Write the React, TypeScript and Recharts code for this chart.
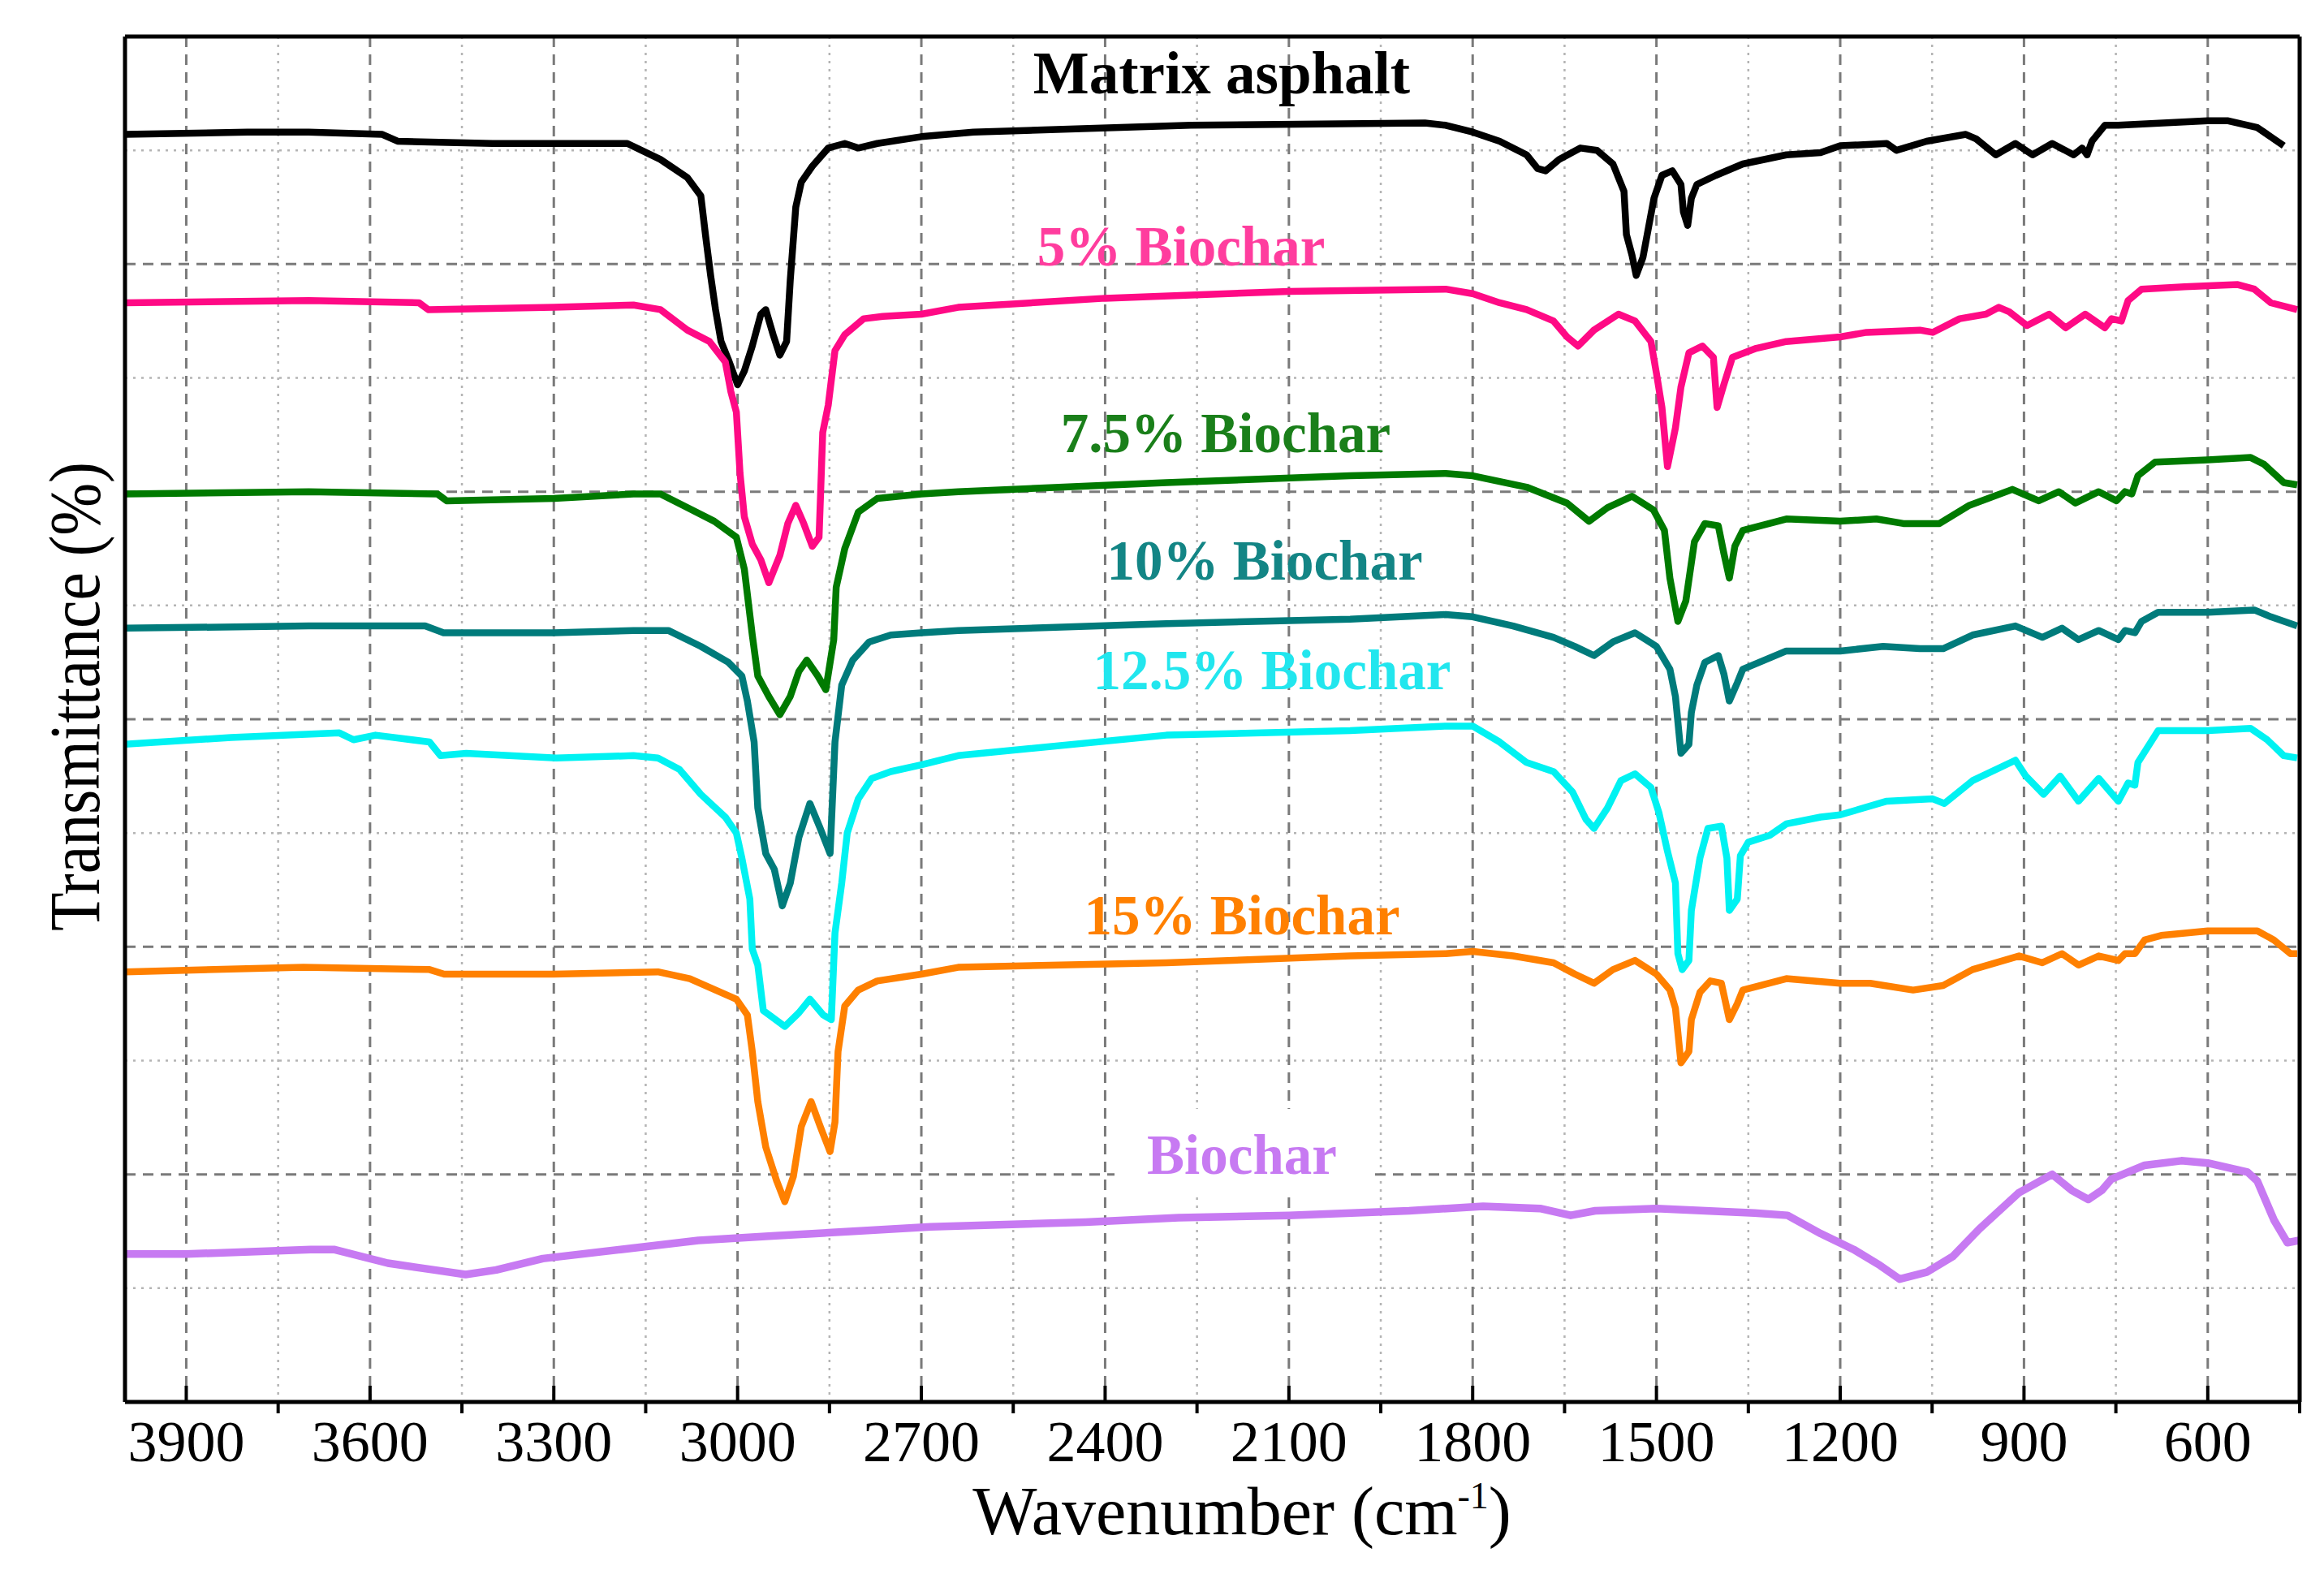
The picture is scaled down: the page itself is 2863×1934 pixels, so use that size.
import { LineChart, Line, XAxis, YAxis, CartesianGrid } from 'recharts'

const FONT = '"Liberation Serif", "Times New Roman", serif'

// [wavenumber (cm-1), transmittance (offset units)]
const MATRIX_ASPHALT: [number, number][] = [
  [4000, 5.57], [3800, 5.58], [3700, 5.58], [3580, 5.57], [3555, 5.54], [3400, 5.53], [3250, 5.53],
  [3180, 5.53], [3126, 5.46], [3082, 5.38], [3060, 5.3], [3052, 5.12], [3044, 4.95], [3036, 4.8],
  [3027, 4.66], [3015, 4.58], [3000, 4.47], [2989, 4.53], [2976, 4.64], [2962, 4.78], [2954, 4.8],
  [2942, 4.69], [2931, 4.6], [2920, 4.66], [2914, 4.93], [2905, 5.25], [2896, 5.36], [2878, 5.43],
  [2852, 5.51], [2825, 5.53], [2803, 5.51], [2772, 5.53], [2700, 5.56], [2615, 5.58], [2260, 5.61],
  [1878, 5.62], [1844, 5.61], [1800, 5.58], [1756, 5.54], [1712, 5.48], [1694, 5.42], [1681, 5.41],
  [1659, 5.46], [1624, 5.51], [1597, 5.5], [1571, 5.44], [1553, 5.32], [1549, 5.13], [1540, 5.04],
  [1533, 4.95], [1522, 5.03], [1513, 5.16], [1504, 5.29], [1491, 5.39], [1474, 5.41], [1460, 5.35],
  [1456, 5.23], [1449, 5.17], [1443, 5.29], [1434, 5.35], [1403, 5.39], [1359, 5.44], [1288, 5.48],
  [1232, 5.49], [1200, 5.52], [1124, 5.53], [1108, 5.5], [1059, 5.54], [995, 5.57], [978, 5.55],
  [946, 5.48], [914, 5.53], [886, 5.48], [854, 5.53], [819, 5.48], [805, 5.51], [797, 5.48],
  [789, 5.54], [768, 5.61], [746, 5.61], [600, 5.63], [568, 5.63], [519, 5.6], [492, 5.55], [476, 5.52],
]

const BIOCHAR_5: [number, number][] = [
  [4000, 4.83], [3700, 4.84], [3520, 4.83], [3505, 4.8], [3300, 4.81], [3170, 4.82], [3126, 4.8],
  [3082, 4.71], [3046, 4.66], [3020, 4.57], [3011, 4.44], [3002, 4.35], [2996, 4.08], [2989, 3.89],
  [2976, 3.77], [2962, 3.7], [2949, 3.6], [2931, 3.72], [2918, 3.86], [2905, 3.94], [2892, 3.86],
  [2878, 3.76], [2867, 3.8], [2861, 4.26], [2852, 4.38], [2841, 4.62], [2825, 4.69], [2794, 4.76],
  [2763, 4.77], [2700, 4.78], [2640, 4.81], [2400, 4.85], [2100, 4.88], [1844, 4.89], [1800, 4.87],
  [1756, 4.83], [1712, 4.8], [1668, 4.75], [1646, 4.68], [1628, 4.64], [1602, 4.71], [1562, 4.78],
  [1535, 4.75], [1509, 4.66], [1500, 4.52], [1491, 4.37], [1482, 4.11], [1469, 4.28], [1460, 4.46],
  [1447, 4.61], [1425, 4.64], [1407, 4.59], [1401, 4.37], [1390, 4.47], [1376, 4.59], [1337, 4.63],
  [1288, 4.66], [1200, 4.68], [1157, 4.7], [1070, 4.71], [1049, 4.7], [1005, 4.76], [962, 4.78],
  [941, 4.81], [924, 4.79], [895, 4.73], [859, 4.78], [832, 4.72], [800, 4.78], [768, 4.72],
  [757, 4.76], [741, 4.75], [730, 4.84], [708, 4.89], [638, 4.9], [551, 4.91], [524, 4.89],
  [497, 4.83], [454, 4.8],
]

const BIOCHAR_7_5: [number, number][] = [
  [4000, 3.99], [3700, 4.0], [3490, 3.99], [3475, 3.96], [3300, 3.97], [3170, 3.99], [3126, 3.99],
  [3082, 3.93], [3038, 3.87], [3002, 3.8], [2989, 3.66], [2976, 3.37], [2967, 3.19], [2949, 3.1],
  [2931, 3.02], [2914, 3.1], [2900, 3.21], [2887, 3.26], [2869, 3.19], [2856, 3.13], [2843, 3.35],
  [2839, 3.58], [2825, 3.75], [2803, 3.91], [2772, 3.97], [2700, 3.99], [2640, 4.0], [2300, 4.04],
  [2000, 4.07], [1844, 4.08], [1800, 4.07], [1712, 4.02], [1646, 3.95], [1610, 3.87], [1580, 3.93],
  [1540, 3.98], [1505, 3.92], [1487, 3.83], [1478, 3.62], [1465, 3.43], [1452, 3.52], [1438, 3.78],
  [1421, 3.86], [1399, 3.85], [1390, 3.73], [1381, 3.62], [1372, 3.76], [1359, 3.83], [1288, 3.88],
  [1200, 3.87], [1141, 3.88], [1097, 3.86], [1038, 3.86], [989, 3.94], [919, 4.01], [876, 3.96],
  [843, 4.0], [816, 3.95], [778, 4.0], [749, 3.96], [735, 4.0], [724, 3.99], [714, 4.07], [686, 4.13],
  [600, 4.14], [530, 4.15], [508, 4.12], [476, 4.04], [454, 4.03],
]

const BIOCHAR_10: [number, number][] = [
  [4000, 3.4], [3700, 3.41], [3510, 3.41], [3480, 3.38], [3300, 3.38], [3170, 3.39], [3113, 3.39],
  [3060, 3.32], [3015, 3.25], [2993, 3.19], [2984, 3.08], [2973, 2.9], [2967, 2.61], [2954, 2.41],
  [2940, 2.34], [2927, 2.18], [2914, 2.28], [2900, 2.48], [2882, 2.63], [2865, 2.52], [2849, 2.41],
  [2841, 2.9], [2830, 3.15], [2812, 3.26], [2785, 3.34], [2750, 3.37], [2700, 3.38], [2640, 3.39],
  [2300, 3.42], [2000, 3.44], [1844, 3.46], [1800, 3.45], [1734, 3.41], [1668, 3.36], [1633, 3.32],
  [1602, 3.28], [1571, 3.34], [1535, 3.38], [1500, 3.32], [1478, 3.22], [1469, 3.1], [1460, 2.85],
  [1447, 2.89], [1443, 3.03], [1434, 3.15], [1421, 3.25], [1399, 3.28], [1390, 3.2], [1381, 3.08],
  [1368, 3.16], [1359, 3.22], [1288, 3.3], [1200, 3.3], [1130, 3.32], [1070, 3.31], [1032, 3.31],
  [984, 3.37], [914, 3.41], [870, 3.36], [838, 3.4], [811, 3.35], [778, 3.39], [746, 3.35],
  [735, 3.39], [719, 3.38], [708, 3.43], [681, 3.47], [600, 3.47], [524, 3.48], [497, 3.45], [454, 3.41],
]

const BIOCHAR_12_5: [number, number][] = [
  [4000, 2.89], [3827, 2.92], [3650, 2.94], [3627, 2.91], [3591, 2.93], [3503, 2.9], [3485, 2.84],
  [3443, 2.85], [3296, 2.83], [3170, 2.84], [3130, 2.83], [3095, 2.78], [3060, 2.67], [3020, 2.57],
  [3002, 2.5], [2993, 2.39], [2980, 2.21], [2976, 1.99], [2967, 1.92], [2958, 1.72], [2923, 1.65],
  [2900, 1.71], [2882, 1.77], [2860, 1.7], [2847, 1.68], [2841, 2.06], [2830, 2.28], [2821, 2.5],
  [2803, 2.65], [2781, 2.74], [2750, 2.77], [2700, 2.8], [2640, 2.84], [2300, 2.93], [2000, 2.95],
  [1844, 2.97], [1800, 2.97], [1756, 2.9], [1712, 2.81], [1668, 2.77], [1637, 2.68], [1615, 2.56],
  [1602, 2.52], [1580, 2.61], [1558, 2.73], [1535, 2.76], [1509, 2.7], [1496, 2.59], [1482, 2.42],
  [1469, 2.28], [1465, 1.97], [1458, 1.9], [1447, 1.94], [1443, 2.16], [1429, 2.39], [1416, 2.52],
  [1394, 2.53], [1385, 2.39], [1381, 2.16], [1368, 2.21], [1363, 2.4], [1350, 2.46], [1315, 2.49],
  [1288, 2.54], [1232, 2.57], [1200, 2.58], [1124, 2.64], [1049, 2.65], [1030, 2.63], [984, 2.73],
  [914, 2.82], [897, 2.75], [868, 2.67], [841, 2.75], [811, 2.64], [778, 2.74], [746, 2.64],
  [730, 2.72], [719, 2.71], [714, 2.81], [681, 2.95], [600, 2.95], [530, 2.96], [503, 2.91],
  [476, 2.84], [454, 2.83],
]

const BIOCHAR_15: [number, number][] = [
  [4000, 1.89], [3709, 1.91], [3503, 1.9], [3479, 1.88], [3300, 1.88], [3130, 1.89], [3078, 1.86],
  [3002, 1.77], [2984, 1.7], [2976, 1.54], [2967, 1.32], [2954, 1.12], [2936, 0.97], [2923, 0.88],
  [2909, 0.99], [2896, 1.21], [2880, 1.32], [2865, 1.21], [2849, 1.1], [2841, 1.23], [2836, 1.54],
  [2825, 1.74], [2803, 1.81], [2772, 1.85], [2700, 1.88], [2640, 1.91], [2300, 1.93], [2000, 1.96],
  [1844, 1.97], [1800, 1.98], [1734, 1.96], [1668, 1.93], [1633, 1.88], [1602, 1.84], [1571, 1.9],
  [1535, 1.94], [1500, 1.88], [1478, 1.81], [1469, 1.73], [1460, 1.49], [1447, 1.54], [1443, 1.68],
  [1429, 1.8], [1412, 1.85], [1394, 1.84], [1381, 1.68], [1368, 1.75], [1359, 1.81], [1288, 1.86],
  [1200, 1.84], [1151, 1.84], [1081, 1.81], [1032, 1.83], [984, 1.9], [908, 1.96], [870, 1.93],
  [838, 1.97], [811, 1.92], [778, 1.96], [746, 1.94], [735, 1.97], [719, 1.97], [703, 2.03],
  [676, 2.05], [600, 2.07], [519, 2.07], [492, 2.03], [465, 1.97], [454, 1.97],
]

const BIOCHAR: [number, number][] = [
  [4000, 0.65], [3900, 0.65], [3697, 0.67], [3659, 0.67], [3571, 0.61], [3495, 0.58], [3444, 0.56],
  [3394, 0.58], [3318, 0.63], [3191, 0.67], [3064, 0.71], [2938, 0.73], [2811, 0.75], [2685, 0.77],
  [2432, 0.79], [2280, 0.81], [2100, 0.82], [1904, 0.84], [1783, 0.86], [1690, 0.85], [1640, 0.82],
  [1600, 0.84], [1500, 0.85], [1420, 0.84], [1340, 0.83], [1286, 0.82], [1232, 0.74], [1178, 0.67],
  [1135, 0.6], [1103, 0.54], [1059, 0.57], [1016, 0.64], [973, 0.76], [908, 0.92], [854, 1.0],
  [822, 0.93], [795, 0.89], [773, 0.93], [757, 0.98], [703, 1.04], [643, 1.06], [600, 1.05],
  [535, 1.01], [519, 0.97], [492, 0.8], [470, 0.7], [451, 0.71],
]

const MAJOR_TICKS = [3900, 3600, 3300, 3000, 2700, 2400, 2100, 1800, 1500, 1200, 900, 600]
const MINOR_TICKS = [3750, 3450, 3150, 2850, 2550, 2250, 1950, 1650, 1350, 1050, 750, 450]
const Y_MAJOR = [1, 2, 3, 4, 5]
const Y_MINOR = [0.5, 1.5, 2.5, 3.5, 4.5, 5.5]

const SERIES = [
  { name: 'Matrix asphalt', points: MATRIX_ASPHALT, color: '#000000', width: 8.5 },
  { name: '5% Biochar', points: BIOCHAR_5, color: '#FF0A85', width: 8.5 },
  { name: '7.5% Biochar', points: BIOCHAR_7_5, color: '#007A00', width: 8.5 },
  { name: '10% Biochar', points: BIOCHAR_10, color: '#007B7B', width: 8.5 },
  { name: '12.5% Biochar', points: BIOCHAR_12_5, color: '#00F2F2', width: 8.5 },
  { name: '15% Biochar', points: BIOCHAR_15, color: '#FF8000', width: 8.5 },
  { name: 'Biochar', points: BIOCHAR, color: '#C77AF2', width: 9.5 },
]

const LABELS = [
  { text: 'Matrix asphalt', color: '#000000', x: 1505, y: 115, size: 73 },
  { text: '5% Biochar', color: '#FF3D9E', x: 1455, y: 327, size: 69 },
  { text: '7.5% Biochar', color: '#1A7F1A', x: 1510, y: 557, size: 69 },
  { text: '10% Biochar', color: '#138585', x: 1558, y: 714, size: 69 },
  { text: '12.5% Biochar', color: '#22E6EE', x: 1567, y: 849, size: 69 },
  { text: '15% Biochar', color: '#FF8000', x: 1530, y: 1151, size: 69 },
  { text: 'Biochar', color: '#C77AF2', x: 1530, y: 1446, size: 69 },
]

const W = 2863
const H = 1934

function WaveTick(props: any) {
  const { x, y, payload } = props
  const major = payload.value % 300 === 0
  return (
    <g>
      <line x1={x} x2={x} y1={y} y2={major ? y - 20 : y + 14} stroke="#000" strokeWidth={4} />
      {major && (
        <text x={x} y={y + 73} textAnchor="middle" fontSize={72} fontFamily={FONT} fill="#000">
          {payload.value}
        </text>
      )}
    </g>
  )
}

const NoTick = () => null

export default function App() {
  const frame = { stroke: '#000', strokeWidth: 5 }
  return (
    <div style={{ position: 'absolute', left: 0, top: 0, width: W, height: H, background: '#fff' }}>
      <LineChart width={W} height={H} margin={{ top: 44, right: 29, bottom: 206, left: 153 }}>
        <CartesianGrid
          horizontalValues={Y_MINOR}
          verticalValues={MINOR_TICKS}
          stroke="#b4b4b4"
          strokeWidth={2.5}
          strokeDasharray="3 7"
        />
        <CartesianGrid
          horizontalValues={Y_MAJOR}
          verticalValues={MAJOR_TICKS}
          stroke="#7a7a7a"
          strokeWidth={3}
          strokeDasharray="13 9"
        />
        <XAxis
          dataKey="wn"
          type="number"
          domain={[450, 4000]}
          reversed
          allowDataOverflow
          ticks={[...MAJOR_TICKS, ...MINOR_TICKS].sort((a, b) => b - a)}
          interval={0}
          height={1}
          tickSize={0}
          tickMargin={0}
          tickLine={false}
          tick={<WaveTick />}
          axisLine={frame}
        />
        <XAxis
          xAxisId="top"
          orientation="top"
          dataKey="wn"
          type="number"
          domain={[450, 4000]}
          reversed
          height={1}
          tick={false}
          tickLine={false}
          axisLine={frame}
        />
        <YAxis
          type="number"
          domain={[0, 6]}
          ticks={[0, 1, 2, 3, 4, 5, 6]}
          width={1}
          tick={NoTick}
          tickLine={false}
          axisLine={frame}
        />
        <YAxis
          yAxisId="right"
          orientation="right"
          type="number"
          domain={[0, 6]}
          width={1}
          tick={false}
          tickLine={false}
          axisLine={frame}
        />
        {SERIES.map((s) => (
          <Line
            key={s.name}
            name={s.name}
            data={s.points.map(([wn, t]) => ({ wn, t }))}
            dataKey="t"
            type="linear"
            stroke={s.color}
            strokeWidth={s.width}
            strokeLinejoin="round"
            dot={false}
            activeDot={false}
            isAnimationActive={false}
          />
        ))}
      </LineChart>
      <svg
        width={W}
        height={H}
        style={{ position: 'absolute', left: 0, top: 0, pointerEvents: 'none' }}
      >
        <rect x={1373} y={1366} width={320} height={104} fill="#fff" />
        {LABELS.map((l) => (
          <text
            key={l.text}
            x={l.x}
            y={l.y}
            textAnchor="middle"
            fontSize={l.size}
            fontWeight="bold"
            fontFamily={FONT}
            fill={l.color}
          >
            {l.text}
          </text>
        ))}
        <text
          transform="translate(122, 858) rotate(-90)"
          textAnchor="middle"
          fontSize={88}
          fontFamily={FONT}
          textLength={578}
          lengthAdjust="spacingAndGlyphs"
          fill="#000"
        >
          Transmittance (%)
        </text>
        <text x={1530} y={1890} textAnchor="middle" fontSize={84} fontFamily={FONT} fill="#000">
          Wavenumber (cm
          <tspan fontSize={46} dy={-32}>-1</tspan>
          <tspan dy={32}>)</tspan>
        </text>
      </svg>
    </div>
  )
}
